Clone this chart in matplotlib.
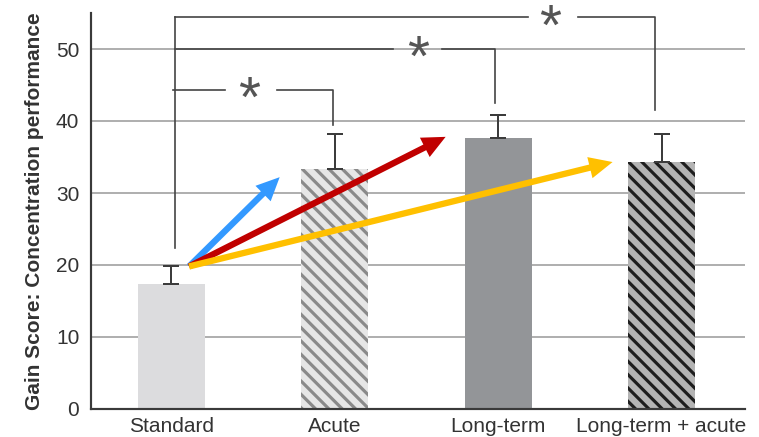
import numpy as np
import matplotlib
matplotlib.use("Agg")
import matplotlib.pyplot as plt

# data
groups = ["Standard", "Acute", "Long-term", "Long-term + acute"]
means = [17.4, 33.3, 37.7, 34.3]
sem = [2.5, 4.9, 3.1, 3.9]
yticks = [0, 10, 20, 30, 40, 50]

# bar looks
face = ["#dcdcde", "#e6e6e6", "#939598", "#b4b4b4"]
stripe = ["#dcdcde", "#8a8a8a", "#939598", "#1e1e1e"]
hatch = [None, "\\\\\\", None, "\\\\\\"]

# significance brackets: (left x, right x, height, drop to, gap start, gap end, star x)
brackets = [
    (0.009, 0.988, 44.3, 39.4, 0.327, 0.645, 0.474),
    (0.021, 1.979, 50.0, 42.5, 1.355, 1.654, 1.508),
    (0.021, 2.957, 54.4, 41.5, 2.180, 2.486, 2.320),
]
bracket_stem = (0.021, 22.4, 54.4)

# arrows: start and ends
arrow_start = (0.11, 19.8)
arrow_ends = [(0.664, 32.2), (1.679, 37.8), (2.70, 34.3)]
arrow_colors = ["#3399ff", "#c00000", "#ffc000"]

plt.rcParams["font.family"] = ["Liberation Sans", "DejaVu Sans"]
plt.rcParams["hatch.linewidth"] = 1.9

dpi = 120
fig = plt.figure(figsize=(759 / dpi, 437 / dpi), dpi=dpi)
ax = fig.add_axes([91 / 759, 1 - 409 / 437, (745 - 91) / 759, (409 - 13) / 437])

x = np.arange(len(groups))
for i in range(len(groups)):
    ax.bar(x[i], means[i], width=0.41, color=face[i], edgecolor=stripe[i],
           hatch=hatch[i], linewidth=0, zorder=2)
ax.errorbar(x, means, yerr=[np.zeros(len(sem)), sem], fmt="none",
            ecolor="#3c3c3c", elinewidth=1.2, capsize=5, capthick=1.2, zorder=3)

ax.set_xlim(-0.49, 3.51)
ax.set_ylim(0, 55)
ax.set_yticks(yticks)
ax.set_xticks(x)
ax.set_xticklabels(groups)
ax.tick_params(axis="both", length=0, labelsize=12.5, colors="#333333")
ax.tick_params(axis="y", pad=7)
ax.tick_params(axis="x", pad=5)
ax.yaxis.grid(True, color="#b0b0b0", linewidth=1.2, zorder=0)
ax.set_axisbelow(True)
for s in ["top", "right"]:
    ax.spines[s].set_visible(False)
for s in ["left", "bottom"]:
    ax.spines[s].set_color("#3a3a3a")
    ax.spines[s].set_linewidth(1.3)
ax.set_ylabel("Gain Score: Concentration performance", fontsize=12.5,
              fontweight="bold", color="#333333", labelpad=7)

# brackets
lc = "#444444"
ax.plot([bracket_stem[0]] * 2, [bracket_stem[1], bracket_stem[2]], color=lc, lw=1.0, zorder=4)
for x0, x1, h, drop, g0, g1, sx in brackets:
    ax.plot([x0, g0], [h, h], color=lc, lw=1.0, zorder=4)
    ax.plot([g1, x1, x1], [h, h, drop], color=lc, lw=1.0, zorder=4)
    ax.annotate("*", xy=(sx, h), xytext=(0, -0.48 * 34), textcoords="offset points",
                fontsize=34, color="#555555", ha="center", va="baseline",
                annotation_clip=False, zorder=5)

# arrows
for (ex, ey), c in zip(arrow_ends, arrow_colors):
    ax.annotate("", xy=(ex, ey), xytext=arrow_start,
                arrowprops=dict(arrowstyle="simple,head_length=14,head_width=13,tail_width=3.8",
                                mutation_scale=1, color=c, shrinkA=0, shrinkB=0,
                                lw=0), zorder=6)

fig.savefig("out.png", dpi=dpi)
